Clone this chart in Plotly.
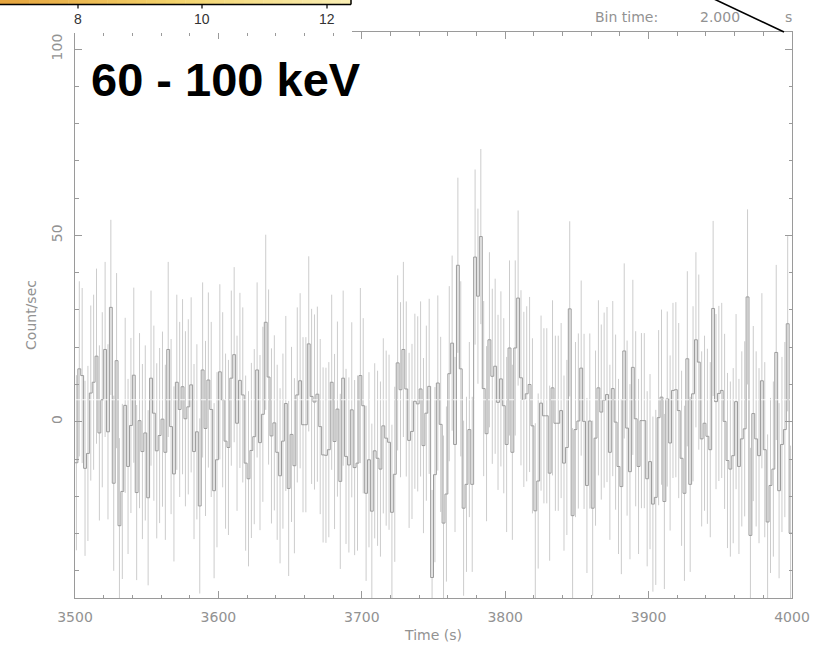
import plotly.graph_objects as go

# ---------------- data ----------------
T_START = 3500.0          # s
BIN_TIME = 2.0            # s
RATE_ERR = 23.5           # count/sec (1-sigma, approx. constant)

RATE_3500_3600 = [
    -11.0, 14.2, 12.4, -12.5, -8.5, 7.7, 10.6, 17.6, -3.0, 5.9,
    19.4, -2.7, 30.7, -16.5, 16.4, -27.9, -18.7, 4.4, -12.0, -1.0,
    12.5, -19.0, 0.3, -8.0, -3.0, -20.4, 11.7, 2.3, -7.8, -3.7,
    0.7, -8.2, 19.4, -1.3, -14.0, 10.6, 3.3, 9.4, 0.8, 4.0,
    9.9, -8.0, -2.7, -22.6, 13.9, -1.8, 11.2, 3.3, -18.5, -10.2,
]
RATE_3600_3700 = [
    13.4, 5.9, -5.2, -6.9, 11.7, 18.0, -0.4, 11.1, 7.2, -11.1,
    -15.3, -7.7, -4.0, 13.9, -5.6, 2.0, 26.7, 12.0, -3.8, -0.3,
    -8.2, -14.5, -5.2, 4.9, -17.9, -3.4, -11.8, 7.2, 11.0, -0.8,
    -0.8, 20.9, 6.8, 5.3, 7.4, -1.3, -8.9, -9.0, -7.5, 10.6,
    -5.3, 3.4, -16.0, 11.7, -9.3, -11.6, 3.2, -12.3, -11.1, 12.4,
]
RATE_3700_3800 = [
    4.3, -19.2, -10.2, -24.0, -7.8, -9.8, -12.7, -1.1, -4.4, -5.5,
    -24.3, -14.1, 15.8, 8.6, 19.4, 8.8, -5.0, -2.6, 5.5, 4.8,
    8.8, -6.4, 2.3, 9.5, -41.8, -14.2, 10.4, -0.7, -27.2, -19.4,
    12.9, 21.1, -6.1, 42.0, 14.2, -23.2, -16.8, -2.1, -16.8, 44.2,
    33.7, 49.7, 8.9, -3.2, 22.0, 12.2, 14.9, 5.2, 11.5, 4.3,
]
RATE_3800_3900 = [
    -6.1, 19.8, -8.2, 19.8, 33.2, 11.8, 6.0, 7.5, 10.0, -1.1,
    -23.9, -15.9, 5.0, 1.6, 1.6, -13.8, 9.1, -0.4, -0.4, 3.0,
    -11.1, -6.9, 30.3, -25.2, -2.1, 0.2, 14.4, 0.1, -17.1, 0.2,
    -23.2, -4.4, 9.1, 2.6, 5.8, 7.3, -8.2, 8.9, -0.1, -12.0,
    -17.4, 19.0, -1.7, -13.4, 14.6, 0.8, -12.0, 0.3, 0.3, -15.3,
]
RATE_3900_4000 = [
    -10.7, -22.1, -20.3, 1.1, 6.6, -21.4, 6.1, -5.7, 8.4, 8.6,
    3.0, -9.8, -19.2, 16.9, -16.8, 7.5, 22.0, 16.0, -4.6, -0.4,
    -3.9, -7.5, 30.4, 5.4, 7.6, 8.4, 0.1, -10.4, -12.7, -9.1,
    5.4, -12.0, -4.6, -1.9, 33.5, -30.5, 2.2, -4.6, -9.1, 11.0,
    -7.5, -26.9, -17.1, -12.7, 18.6, -18.5, -6.1, -2.1, 26.3, -29.9,
]

X_TICKS = [3500, 3600, 3700, 3800, 3900, 4000]
Y_TICKS = [0, 50, 100]
X_RANGE = [3500, 4000]
Y_RANGE = [-47.3, 104.6]
ENERGY_LABEL = "60 - 100 keV"
CB_TICK_LABELS = ["8", "10", "12"]

rate = (RATE_3500_3600 + RATE_3600_3700 + RATE_3700_3800
        + RATE_3800_3900 + RATE_3900_4000)
n = len(rate)
centers = [T_START + BIN_TIME * (i + 0.5) for i in range(n)]
edges = [T_START + BIN_TIME * i for i in range(n + 1)]
step_y = rate + [rate[-1]]

# ---------------- figure ----------------
W, H = 831, 652
L, R, T, B = 75, 39, 32, 54
PW, PH = W - L - R, H - T - B


def px(x):
    return (x - L) / PW


def py(y):
    return (H - B - y) / PH


GRAY = "#9a9a9a"
TXT = "#929292"
FONT = "DejaVu Sans"
BOLD_FONT = "Liberation Sans"

fig = go.Figure()
fig.add_trace(go.Scatter(
    x=centers, y=rate, mode="markers",
    marker=dict(size=2, color="rgba(0,0,0,0)"),
    error_y=dict(type="constant", value=RATE_ERR, color="#cccccc",
                 thickness=1, width=0),
    hoverinfo="skip", showlegend=False,
))
fig.add_trace(go.Scatter(
    x=edges, y=step_y, mode="lines",
    line=dict(shape="hv", color="#9c9c9c", width=1),
    hoverinfo="skip", showlegend=False,
))

axis_common = dict(
    showline=True, linecolor=GRAY, linewidth=1, mirror="ticks",
    ticks="inside", tickcolor=GRAY, tickwidth=1, showgrid=False,
    zeroline=False, automargin=False,
    tickfont=dict(family=FONT, size=14, color=TXT),
)

fig.update_layout(
    width=W, height=H,
    margin=dict(l=L, r=R, t=T, b=B),
    paper_bgcolor="white", plot_bgcolor="white",
    showlegend=False,
    xaxis=dict(
        **axis_common, range=X_RANGE, tickvals=X_TICKS, ticklen=7,
        ticklabelstandoff=6,
        minor=dict(dtick=20, tick0=3500, ticklen=3.5, ticks="inside",
                   tickcolor=GRAY, tickwidth=1),
        title=dict(text="Time (s)", font=dict(family=FONT, size=14, color=TXT),
                   standoff=6),
    ),
    yaxis=dict(
        **axis_common, range=Y_RANGE, tickvals=Y_TICKS, ticklen=7,
        tickangle=-90, ticklabelstandoff=6,
        minor=dict(dtick=10, tick0=0, ticklen=3.5, ticks="inside",
                   tickcolor=GRAY, tickwidth=1),
        title=dict(text="Count/sec", font=dict(family=FONT, size=14, color=TXT),
                   standoff=9),
    ),
)

shapes = []
# white dotted line through the light curve
shapes.append(dict(type="line", xref="x domain", yref="y", x0=0, x1=1,
                   y0=5.9, y1=5.9, layer="above",
                   line=dict(color="white", width=0.9, dash="5px,2px")))
# white box hiding the left part of the top axis (overlay from the figure above)
shapes.append(dict(type="rect", xref="paper", yref="paper",
                   x0=px(0), x1=px(352), y0=py(33), y1=py(-2),
                   fillcolor="white", line=dict(width=0), layer="above"))
# colour-bar remnant at the top-left
c0, c1, c2 = (230, 165, 62), (244, 212, 108), (250, 238, 178)
NSEG = 36
for k in range(NSEG):
    f = k / (NSEG - 1)
    if f < 0.5:
        a, b, g = c0, c1, f / 0.5
    else:
        a, b, g = c1, c2, (f - 0.5) / 0.5
    col = "rgb(%d,%d,%d)" % tuple(int(a[j] + (b[j] - a[j]) * g) for j in range(3))
    shapes.append(dict(type="rect", xref="paper", yref="paper",
                       x0=px(351 * k / NSEG), x1=px(351 * (k + 1) / NSEG + 0.5),
                       y0=py(4.5), y1=py(-1), fillcolor=col,
                       line=dict(width=0), layer="above"))
shapes.append(dict(type="line", xref="paper", yref="paper",
                   x0=px(0), x1=px(351), y0=py(4.5), y1=py(4.5),
                   line=dict(color="black", width=1.5), layer="above"))
shapes.append(dict(type="line", xref="paper", yref="paper",
                   x0=px(351), x1=px(351), y0=py(-1), y1=py(4.5),
                   line=dict(color="black", width=1.5), layer="above"))
cb_tick_px = [78, 202, 327]
for xt in cb_tick_px:
    shapes.append(dict(type="line", xref="paper", yref="paper",
                       x0=px(xt), x1=px(xt), y0=py(4.5), y1=py(8.5),
                       line=dict(color="black", width=1.2), layer="above"))
# pointer line at top-right
shapes.append(dict(type="line", xref="paper", yref="paper",
                   x0=px(714), x1=px(784), y0=py(-1), y1=py(32),
                   line=dict(color="black", width=1.6), layer="above"))
fig.update_layout(shapes=shapes)

ann = []
ann.append(dict(text="<b>%s</b>" % ENERGY_LABEL, xref="paper", yref="paper",
                x=px(89), y=py(79), xanchor="left", yanchor="middle",
                showarrow=False,
                font=dict(family=BOLD_FONT, size=47, color="black")))
for xt, lab in zip(cb_tick_px, CB_TICK_LABELS):
    ann.append(dict(text=lab, xref="paper", yref="paper", x=px(xt), y=py(19),
                    xanchor="center", yanchor="middle", showarrow=False,
                    font=dict(family=BOLD_FONT, size=14, color="#333333")))
ann.append(dict(text="Bin time:", xref="paper", yref="paper", x=px(593),
                y=py(17), xanchor="left", yanchor="middle", showarrow=False,
                font=dict(family=FONT, size=14, color=TXT)))
ann.append(dict(text="2.000", xref="paper", yref="paper", x=px(742),
                y=py(17), xanchor="right", yanchor="middle", showarrow=False,
                font=dict(family=FONT, size=14, color=TXT)))
ann.append(dict(text="s", xref="paper", yref="paper", x=px(788),
                y=py(17), xanchor="center", yanchor="middle", showarrow=False,
                font=dict(family=FONT, size=14, color=TXT)))
fig.update_layout(annotations=ann)

fig.write_html(
    "out.html",
    config={"displayModeBar": False},
    post_script="document.body.style.margin='0';document.body.style.padding='0';",
)
